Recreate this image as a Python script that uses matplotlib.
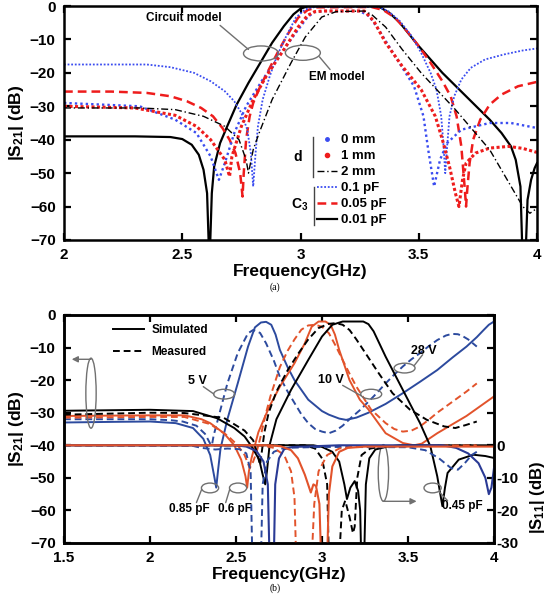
import matplotlib.pyplot as plt
from matplotlib.patches import Ellipse
from matplotlib.lines import Line2D

plt.rcParams['font.family'] = ['Liberation Sans', 'DejaVu Sans']
plt.rcParams['font.weight'] = 'bold'
plt.rcParams['axes.labelweight'] = 'bold'
plt.rcParams['mathtext.fontset'] = 'custom'
plt.rcParams['mathtext.rm'] = 'Liberation Sans:bold'
plt.rcParams['mathtext.it'] = 'Liberation Sans:bold'
plt.rcParams['mathtext.bf'] = 'Liberation Sans:bold'
plt.rcParams['mathtext.default'] = 'rm'

# ---------------- (a) |S21| vs frequency ----------------
# C3 sweep (circuit model)
f_c001 = [2.0, 2.3, 2.45, 2.5, 2.54, 2.57, 2.59, 2.605, 2.615, 2.625, 2.635, 2.66, 2.69,
          2.73, 2.78, 2.83, 2.88, 2.93, 2.97, 3.0, 3.03, 3.1, 3.3, 3.34, 3.38, 3.42, 3.46,
          3.5, 3.55, 3.6, 3.65, 3.7, 3.75, 3.8, 3.85, 3.89, 3.91, 3.93, 3.94, 3.95, 3.96,
          3.975, 3.99, 4.0]
s_c001 = [-39.0, -39.0, -39.2, -39.8, -41.5, -44.5, -49, -56, -78, -56, -48, -41, -36,
          -29.5, -23, -17, -11, -6, -2.5, -0.8, -0.1, 0, 0, -0.5, -2.3, -5, -8.5,
          -12, -16, -20, -23.5, -27, -30.5, -34, -38, -42, -46, -54, -78, -78, -58,
          -52, -48.5, -47]

f_c005 = [2.0, 2.2, 2.35, 2.45, 2.52, 2.58, 2.63, 2.67, 2.7, 2.725, 2.745, 2.755, 2.76,
          2.77, 2.785, 2.8, 2.83, 2.87, 2.91, 2.95, 2.99, 3.03, 3.07, 3.3, 3.35, 3.4,
          3.45, 3.5, 3.55, 3.6, 3.635, 3.66, 3.68, 3.695, 3.7, 3.705, 3.715, 3.73, 3.76,
          3.8, 3.85, 3.92, 4.0]
s_c005 = [-25.6, -25.6, -26, -27, -28.5, -30.5, -33, -36.5, -40, -44, -50, -57, -50,
          -40, -33, -29, -24, -18.5, -13, -8, -3.5, -1.2, -0.4, -0.3, -1.2, -3.5,
          -7.5, -12, -17, -22.5, -27, -33, -42, -55, -60, -55, -47, -40, -34,
          -29.5, -26.5, -24, -22.7]

f_c01 = [2.0, 2.35, 2.45, 2.55, 2.62, 2.68, 2.72, 2.75, 2.775, 2.79, 2.8, 2.81, 2.82,
         2.84, 2.87, 2.9, 2.94, 2.98, 3.02, 3.06, 3.33, 3.37, 3.42, 3.47, 3.51, 3.55,
         3.575, 3.595, 3.605, 3.612, 3.62, 3.63, 3.65, 3.68, 3.72, 3.78, 3.86, 3.94, 4.0]
s_c01 = [-17.5, -17.5, -18.3, -20, -22.5, -25.5, -28.5, -32, -37, -44, -54, -44, -36,
         -28, -21, -15, -9, -3.5, -1, -0.3, -0.3, -1.5, -4.5, -9, -14, -20,
         -25, -33, -42, -50, -42, -33, -27, -22, -18.5, -16, -14.5, -13.3, -12.7]

# d sweep (EM model)
f_d0 = [2.0, 2.32, 2.47, 2.56, 2.62, 2.64, 2.655, 2.68, 2.72, 2.77, 2.84, 2.91, 2.97,
        3.03, 3.06, 3.1, 3.25, 3.29, 3.33, 3.4, 3.48, 3.52, 3.54, 3.565, 3.59, 3.62,
        3.68, 3.8, 3.89, 4.0]
s_d0 = [-29, -30, -34, -38, -45, -49, -52, -47, -38, -30, -22, -15, -9,
        -3.3, -1.8, -1.5, -1.5, -3, -7, -15, -24, -33, -43, -54, -46, -41,
        -37, -35, -35, -36.5]

f_d1 = [2.0, 2.3, 2.47, 2.56, 2.62, 2.68, 2.7, 2.71, 2.75, 2.8, 2.855, 2.93, 2.99,
        3.03, 3.06, 3.1, 3.27, 3.31, 3.36, 3.43, 3.51, 3.57, 3.6, 3.63, 3.655, 3.67,
        3.685, 3.7, 3.74, 3.8, 3.88, 3.94, 4.0]
s_d1 = [-30, -30.5, -32.7, -36, -40, -46, -51, -45, -36, -28, -21, -13, -6.3,
        -2.8, -1.7, -1.5, -1.5, -4.5, -11, -18, -25, -33, -40, -48, -56, -60,
        -52, -47, -44, -42.5, -42, -42.6, -43.8]

f_d2 = [2.0, 2.32, 2.47, 2.59, 2.68, 2.74, 2.77, 2.78, 2.8, 2.825, 2.88, 2.96, 3.02,
        3.09, 3.15, 3.27, 3.3, 3.36, 3.43, 3.51, 3.655, 3.8, 3.94, 3.97, 4.0]
s_d2 = [-30.5, -30.5, -31, -33, -36, -40, -46, -50, -43, -38, -28, -17, -9.3,
        -3.3, -1.7, -1.5, -2.5, -6.3, -13, -20, -31, -43, -60, -62, -60.5]

# ---------------- (b) tunable filter ----------------
# |S21| (left axis)
f_b21s = [1.5, 1.8, 2.0, 2.15, 2.25, 2.31, 2.35, 2.375, 2.385, 2.395, 2.41, 2.45, 2.51,
          2.57, 2.61, 2.645, 2.675, 2.705, 2.73, 2.755, 2.8, 2.84, 2.92, 3.0, 3.04,
          3.1, 3.14, 3.2, 3.27, 3.37, 3.47, 3.57, 3.67, 3.76, 3.84, 3.9, 3.94, 3.97, 4.0]
s_b21s = [-33, -32.8, -32.7, -33.2, -34.7, -38, -43, -50, -53, -48, -41, -32, -21,
          -9.7, -3.8, -2.3, -2.1, -3, -6, -10.7, -16, -20, -26, -29.5, -30.6,
          -31.8, -32.2, -31.5, -30, -27.3, -24, -20.5, -16.9, -13, -9.7, -6.8, -4.6, -3, -2]

f_b21m = [1.5, 2.0, 2.12, 2.19, 2.27, 2.32, 2.35, 2.36, 2.37, 2.4, 2.45, 2.51, 2.57,
          2.6, 2.64, 2.675, 2.72, 2.755, 2.8, 2.84, 2.88, 2.92, 2.96, 3.0, 3.04, 3.08,
          3.12, 3.17, 3.225, 3.3, 3.37, 3.42, 3.47, 3.52, 3.57, 3.62, 3.67, 3.72, 3.755,
          3.79, 3.815, 3.85, 3.9]
s_b21m = [-32, -32, -32.3, -32.7, -34, -36.5, -39.5, -40, -37, -31, -21, -11.7, -5.6,
          -4.6, -5.5, -8.7, -14, -19, -23.5, -27, -30.5, -33.2, -35, -35.8, -36.3, -35.5,
          -34, -31.5, -29, -25, -21, -18.3, -15.8, -13.6, -11.7, -9.6, -7.7, -6.3, -5.8,
          -5.9, -6.4, -7.5, -9.7]

f_r21s = [1.5, 2.0, 2.2, 2.3, 2.35, 2.43, 2.49, 2.53, 2.555, 2.565, 2.575, 2.59, 2.63,
          2.695, 2.755, 2.84, 2.9, 2.94, 2.98, 3.02, 3.05, 3.075, 3.1, 3.16, 3.22, 3.27,
          3.37, 3.47, 3.535, 3.58, 3.67, 3.84, 4.0]
s_r21s = [-31, -30.8, -30.8, -32, -33.2, -36.3, -40, -44.4, -49.5, -53, -48, -44, -36,
          -28, -22, -14.8, -8.7, -3.6, -2, -2, -3, -6, -10.7, -20, -26, -29,
          -36.3, -39.3, -40, -39.5, -36.3, -31, -25]

f_r21m = [1.5, 2.0, 2.2, 2.35, 2.45, 2.51, 2.55, 2.58, 2.6, 2.62, 2.64, 2.67, 2.7,
          2.755, 2.8, 2.84, 2.88, 2.92, 2.96, 3.0, 3.04, 3.08, 3.12, 3.16, 3.2, 3.285,
          3.37, 3.42, 3.47, 3.52, 3.57, 3.62, 3.67, 3.775, 3.84, 3.9]
s_r21m = [-31.5, -31.3, -31.3, -33.5, -37, -40, -43, -47, -45, -42, -38, -31, -25,
          -16, -11, -7.5, -4.5, -3.2, -3, -3.6, -5.6, -9.5, -13.8, -18, -22, -29,
          -33.2, -35, -35.8, -35.5, -34.2, -32.2, -30, -26, -23.5, -21]

f_k21s = [1.5, 2.0, 2.25, 2.39, 2.49, 2.55, 2.59, 2.635, 2.655, 2.67, 2.68, 2.695, 2.735,
          2.82, 2.92, 3.0, 3.06, 3.12, 3.24, 3.27, 3.3, 3.37, 3.47, 3.57, 3.63, 3.67,
          3.7, 3.715, 3.73, 3.795, 3.88, 3.95, 4.0]
s_k21s = [-29.4, -29.1, -29.5, -31.7, -34.7, -37.3, -40.3, -44.4, -49, -52, -48, -40, -32,
          -23, -13.8, -6.6, -3, -2, -2, -2.8, -5, -12.8, -23, -33.2, -40.3, -49.5,
          -58.7, -53, -48.5, -44.4, -42.9, -43.3, -43.9]

f_k21m = [1.5, 2.0, 2.2, 2.43, 2.55, 2.6, 2.615, 2.63, 2.64, 2.65, 2.665, 2.69, 2.735,
          2.8, 2.86, 2.92, 2.98, 3.04, 3.08, 3.12, 3.16, 3.2, 3.24, 3.33, 3.41, 3.51,
          3.61, 3.71, 3.775, 3.835, 3.9]
s_k21m = [-30.6, -30, -30.1, -31.6, -35.5, -38.5, -41, -44, -46, -42, -36, -30, -23.5,
          -17, -12, -7.5, -4, -2.7, -2.5, -3, -4.6, -7.5, -10.7, -17.9, -24, -29,
          -32.2, -34.2, -34.7, -33.8, -32.7]

# |S11| (right axis)
f_b11s = [1.5, 2.5, 2.56, 2.62, 2.66, 2.685, 2.695, 2.72, 2.728, 2.75, 2.78, 2.83, 2.9,
          3.1, 3.7, 3.78, 3.85, 3.91, 3.95, 3.97, 3.985, 4.0]
s_b11s = [0, 0, -0.4, -1.8, -5, -12, -35, -35, -12, -4, -1.2, -0.5, -0.4,
          0, 0, -0.8, -2.5, -5.5, -10, -15, -13, -7]

f_b11m = [1.5, 2.25, 2.3, 2.38, 2.45, 2.52, 2.56, 2.585, 2.595, 2.645, 2.655, 2.68, 2.72,
          2.78, 3.0, 3.5, 3.6, 3.68, 3.75, 3.79, 3.83, 3.87, 3.9]
s_b11m = [0, -0.2, -0.8, -1.3, -1, -1.2, -2.5, -8, -35, -35, -12, -5, -2,
          -0.8, -0.5, -0.6, -1.5, -4, -7, -7.5, -5.5, -3, -2]

f_r11s = [1.5, 2.7, 2.76, 2.82, 2.86, 2.9, 2.935, 2.95, 2.965, 2.985, 2.995, 3.03, 3.04,
          3.06, 3.1, 3.15, 3.25, 4.0]
s_r11s = [0, 0, -0.3, -1.5, -4, -9, -14.5, -12, -12.5, -18, -35, -35, -15,
          -6.5, -2, -0.8, -0.4, -0.4]

f_r11m = [1.5, 2.65, 2.72, 2.78, 2.82, 2.84, 2.85, 2.94, 2.955, 2.98, 3.03, 3.1, 3.2, 3.9]
s_r11m = [0, 0, -0.8, -3, -8, -16, -35, -35, -18, -8, -3, -1, -0.3, 0]

f_k11s = [1.5, 2.95, 3.0, 3.06, 3.1, 3.13, 3.145, 3.165, 3.19, 3.21, 3.222, 3.228, 3.245,
          3.255, 3.275, 3.31, 3.38, 3.45, 4.0]
s_k11s = [0, 0, -0.5, -2, -5, -12, -16.5, -13, -11, -14, -20, -35, -35,
          -12, -4, -1.3, -0.4, 0, 0]

f_k11m = [1.5, 2.9, 2.96, 3.0, 3.03, 3.04, 3.1, 3.115, 3.135, 3.16, 3.18, 3.19, 3.205,
          3.23, 3.28, 3.35, 3.9]
s_k11m = [0, 0, -1, -4, -12, -35, -35, -20, -17, -22, -27, -25, -10,
          -3, -1, -0.4, 0]

BLUE_A = '#3a4cf0'
RED_A = '#ee1c1c'
BLUE_B = '#2c4a9e'
RED_B = '#e2532b'
GRAY = '#707070'


def style_axes(ax):
    for sp in ax.spines.values():
        sp.set_linewidth(1.8)
    ax.tick_params(direction='in', length=5, width=1.6, labelsize=11, pad=6)


def oval(ax, x, y, w, h):
    ax.add_patch(Ellipse((x, y), w, h, fill=False, edgecolor=GRAY, lw=1.0, zorder=6))


def link(ax, p0, p1, head=False):
    ax.annotate('', xy=p1, xytext=p0,
                arrowprops=dict(arrowstyle='-|>' if head else '-', color=GRAY, lw=1.0,
                                mutation_scale=9, shrinkA=0, shrinkB=0), zorder=6)


fig = plt.figure(figsize=(5.49, 5.94), dpi=100)
ax1 = fig.add_axes([64 / 549, 1 - 240 / 594, (537 - 64) / 549, (240 - 6) / 594])
ax2 = fig.add_axes([64 / 549, 1 - 543 / 594, (494 - 64) / 549, (543 - 315) / 594])

# ---- (a)
ax1.plot(f_c001, s_c001, color='black', lw=1.6)
ax1.plot(f_c005, s_c005, color=RED_A, lw=1.8, ls=(0, (3.5, 2)))
ax1.plot(f_c01, s_c01, color=BLUE_A, lw=1.3, ls=(0, (1, 1)))
ax1.plot(f_d0, s_d0, color=BLUE_A, lw=1.7, ls=(0, (1, 1.3)))
ax1.plot(f_d1, s_d1, color=RED_A, lw=2.2, ls=(0, (1, 0.8)))
ax1.plot(f_d2, s_d2, color='black', lw=1.0, ls=(0, (5, 2, 1, 2)))

ax1.set_xlim(2, 4)
ax1.set_ylim(-70, 0)
ax1.set_xticks([2, 2.5, 3, 3.5, 4], ['2', '2.5', '3', '3.5', '4'])
ax1.set_yticks(range(-70, 1, 10))
style_axes(ax1)
ax1.tick_params(top=True, right=True)
ax1.set_xlabel('Frequency(GHz)', fontsize=12.5, labelpad=1)
ax1.set_ylabel('|S$_{21}$| (dB)', fontsize=12.5, labelpad=3)

handles = [
    Line2D([], [], color=BLUE_A, ls='none', marker='.', ms=5),
    Line2D([], [], color=RED_A, ls='none', marker='.', ms=6),
    Line2D([], [], color='black', lw=1.0, ls=(0, (5, 2, 1, 2))),
    Line2D([], [], color=BLUE_A, lw=1.3, ls=(0, (1, 1))),
    Line2D([], [], color=RED_A, lw=1.8, ls=(0, (3.5, 2))),
    Line2D([], [], color='black', lw=1.6),
]
labels = ['0 mm', '1 mm', '2 mm', '0.1 pF', '0.05 pF', '0.01 pF']
ax1.legend(handles, labels, loc='upper left', bbox_to_anchor=(0.535, 0.452), frameon=False,
           fontsize=9.5, handlelength=1.5, handletextpad=0.3, labelspacing=0.28,
           borderpad=0, borderaxespad=0, numpoints=1)
ax1.text(0.494, 0.356, 'd', transform=ax1.transAxes, fontsize=10, ha='center', va='center')
ax1.text(0.498, 0.149, 'C$_3$', transform=ax1.transAxes, fontsize=10, ha='center', va='center')
ax1.plot([0.527, 0.527], [0.27, 0.441], transform=ax1.transAxes, color='#444444', lw=1)
ax1.plot([0.529, 0.529], [0.064, 0.228], transform=ax1.transAxes, color='#444444', lw=1)

ax1.text(2.507, -3.5, 'Circuit model', fontsize=8.5, ha='center', va='center')
oval(ax1, 2.833, -14.2, 0.148, 4.5)
link(ax1, (2.66, -5.8), (2.78, -13.0))
ax1.text(3.154, -21.2, 'EM model', fontsize=8.5, ha='center', va='center')
oval(ax1, 3.01, -14.0, 0.148, 4.5)
link(ax1, (3.08, -15.2), (3.125, -19.0))

fig.text(275 / 549, 1 - 287 / 594, '(a)', fontsize=7, family='Liberation Serif',
         weight='normal', ha='center', va='center')

# ---- (b)
ax2.plot(f_b21s, s_b21s, color=BLUE_B, lw=1.4)
ax2.plot(f_b21m, s_b21m, color=BLUE_B, lw=1.4, ls=(0, (3.5, 2)))
ax2.plot(f_r21s, s_r21s, color=RED_B, lw=1.4)
ax2.plot(f_r21m, s_r21m, color=RED_B, lw=1.4, ls=(0, (3.5, 2)))
ax2.plot(f_k21s, s_k21s, color='black', lw=1.4)
ax2.plot(f_k21m, s_k21m, color='black', lw=1.4, ls=(0, (3.5, 2)))

ax2.set_xlim(1.5, 4)
ax2.set_ylim(-70, 0)
ax2.set_xticks([1.5, 2, 2.5, 3, 3.5, 4], ['1.5', '2', '2.5', '3', '3.5', '4'])
ax2.set_yticks(range(-70, 1, 10))
style_axes(ax2)
ax2.tick_params(top=True, right=False)
ax2.set_xlabel('Frequency(GHz)', fontsize=12.5, labelpad=1)
ax2.set_ylabel('|S$_{21}$| (dB)', fontsize=12.5, labelpad=3)

ax3 = ax2.twinx()
ax3.plot(f_k11s, s_k11s, color='black', lw=1.4)
ax3.plot(f_k11m, s_k11m, color='black', lw=1.4, ls=(0, (3.5, 2)))
ax3.plot(f_b11m, s_b11m, color=BLUE_B, lw=1.4, ls=(0, (3.5, 2)))
ax3.plot(f_r11m, s_r11m, color=RED_B, lw=1.4, ls=(0, (3.5, 2)))
ax3.plot(f_b11s, s_b11s, color='#2a3a95', lw=1.5)
ax3.plot(f_r11s, s_r11s, color=RED_B, lw=1.5)
ax3.set_ylim(-30, 40)
ax3.set_yticks(range(-30, 41, 10), ['-30', '-20', '-10', '0', '', '', '', ''])
style_axes(ax3)
ax3.tick_params(pad=2)
ax3.set_ylabel('|S$_{11}$| (dB)', fontsize=12, rotation=90)
ax3.yaxis.set_label_coords(1.078, 0.2)

ax2.legend([Line2D([], [], color='black', lw=1.4),
            Line2D([], [], color='black', lw=1.4, ls=(0, (3.5, 2)))],
           ['Simulated', 'Measured'], loc='upper left', bbox_to_anchor=(0.115, 0.96),
           frameon=False, fontsize=8.5, handlelength=2.6, handletextpad=0.6,
           labelspacing=0.85, borderpad=0, borderaxespad=0)

oval(ax2, 1.657, -24, 0.06, 21.5)
link(ax2, (1.657, -13.6), (1.545, -13.6), head=True)
oval(ax2, 3.357, -48.5, 0.06, 17.4)
link(ax2, (3.357, -57.2), (3.55, -57.2), head=True)

ax2.text(2.278, -20.4, '5 V', fontsize=9, ha='center', va='center')
oval(ax2, 2.431, -24.3, 0.122, 3.0)
link(ax2, (2.31, -22.0), (2.372, -24.3))
ax2.text(3.052, -19.9, '10 V', fontsize=9, ha='center', va='center')
oval(ax2, 3.286, -24.3, 0.122, 3.0)
link(ax2, (3.12, -21.6), (3.228, -24.8))
ax2.text(3.592, -10.9, '28 V', fontsize=9, ha='center', va='center')
oval(ax2, 3.48, -16.3, 0.122, 3.0)
link(ax2, (3.585, -12.2), (3.535, -15.6))

ax2.text(2.227, -59.6, '0.85 pF', fontsize=8.5, ha='center', va='center')
oval(ax2, 2.349, -53.1, 0.1, 3.0)
link(ax2, (2.30, -53.6), (2.27, -57.6))
ax2.text(2.492, -59.6, '0.6 pF', fontsize=8.5, ha='center', va='center')
oval(ax2, 2.512, -53.1, 0.1, 3.0)
link(ax2, (2.463, -53.6), (2.44, -57.6))
ax2.text(3.816, -58.7, '0.45 pF', fontsize=8.5, ha='center', va='center')
oval(ax2, 3.643, -53.1, 0.1, 3.0)
link(ax2, (3.68, -54.2), (3.73, -57.0))

fig.text(275 / 549, 1 - 588 / 594, '(b)', fontsize=7, family='Liberation Serif',
         weight='normal', ha='center', va='center')

fig.savefig('out.png', dpi=100)
